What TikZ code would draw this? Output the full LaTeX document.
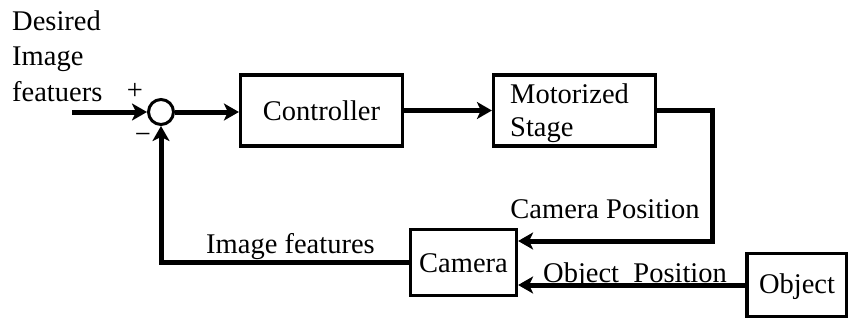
\documentclass[tikz,border=0pt]{standalone}
\usepackage{fontspec}
\setmainfont{Liberation Serif}
\usetikzlibrary{arrows.meta,calc}
\begin{document}
\begin{tikzpicture}[x=1pt,y=-1pt,
  every node/.style={font=\fontsize{28.5}{34}\selectfont},
  block/.style={draw, line width=3.2pt, inner sep=0pt},
  sig/.style={line width=5pt, -{Stealth[length=15pt,width=17pt,inset=4pt]}},
  lbl/.style={anchor=base, inner sep=0pt}]
\useasboundingbox (0,0) rectangle (848,321);

% summing junction
\node[draw, circle, line width=3pt, minimum size=25pt, inner sep=0pt] (sum) at (161,112) {};

% blocks
\node[block, minimum width=162pt, minimum height=71pt] (ctrl) at (321.5,110.5) {};
\node[lbl] at (321.5,120) {Controller};
\node[block, minimum width=162pt, minimum height=71pt] (stage) at (574.5,110.5) {};
\node[lbl, anchor=base west] at (510,103) {Motorized};
\node[lbl, anchor=base west] at (510,136) {Stage};
\node[block, minimum width=106pt, minimum height=66pt] (cam) at (463.5,262.5) {};
\node[lbl] at (463.5,272) {Camera};
\node[block, minimum width=100pt, minimum height=63pt] (obj) at (797,285) {};
\node[lbl] at (797,293) {Object};

% input label and signs
\node[lbl, anchor=base west] at (12,31) {Desired};
\node[lbl, anchor=base west] at (12,66) {Image};
\node[lbl, anchor=base west] at (12,101) {featuers};
\node[lbl] at (135,99) {+};
\node[lbl] at (143,143) {−};

% signal labels
\node[lbl] at (290.5,253) {Image features};
\node[lbl] at (605,218) {Camera Position};
\node[lbl] at (635,282) {Object\ \ Position};

% connectors
\coordinate (in) at (72,112);
\coordinate (turn) at (712,241);
\draw[sig] (in) -- (sum.west);
\draw[sig] (sum.east) -- (sum.east -| ctrl.west);
\draw[sig] (ctrl.east) -- (stage.west);
\draw[sig] (stage.east) -| (turn) -- (turn -| cam.east);
\draw[sig] (obj.west) -- (obj.west -| cam.east);
\draw[sig] (cam.west) -| (sum.south);
\end{tikzpicture}
\end{document}
